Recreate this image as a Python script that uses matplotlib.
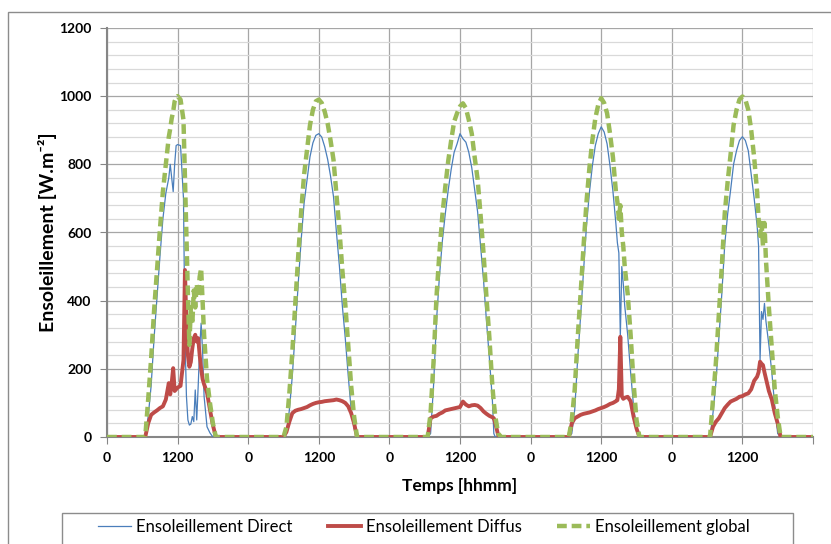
import numpy as np
import matplotlib
matplotlib.use('Agg')
from matplotlib import pyplot as plt
from matplotlib.patches import Rectangle
from matplotlib.ticker import MultipleLocator

plt.rcParams['font.family'] = ['Lato', 'DejaVu Sans']

# hours of the day (local), one list per day (W/m2)
hours_d1 = [6.0, 6.5, 7.0, 7.5, 8.0, 8.5, 9.0, 9.5, 10.0, 10.5, 10.75, 11.0, 11.25, 11.5, 11.75, 12.0, 12.5,
            13.0, 13.25, 13.5, 13.75, 14.0, 14.25, 14.5, 14.75, 15.0, 15.25, 15.5, 15.75, 16.0, 16.25, 16.5,
            17.0, 17.5, 18.0, 18.5, 19.0]
direct_d1 = [0, 0, 60, 150, 290, 410, 530, 640, 715, 760, 800, 760, 720, 800, 855, 858, 855,
             700, 300, 120, 50, 35, 38, 60, 45, 138, 50, 150, 260, 334, 250, 120,
             30, 12, 0, 0, 0]
diffuse_d1 = [0, 0, 40, 65, 72, 78, 85, 90, 110, 158, 125, 160, 202, 135, 140, 145, 150,
              226, 490, 330, 240, 206, 220, 260, 290, 300, 280, 290, 240, 200, 170, 155,
              130, 80, 35, 0, 0]
global_d1 = [0, 0, 110, 230, 370, 490, 610, 720, 800, 880, 905, 935, 955, 985, 995, 1000, 990,
             930, 760, 580, 420, 270, 380, 330, 430, 380, 450, 410, 470, 495, 400, 300,
             170, 100, 40, 0, 0]

hours_d2 = [6.0, 6.5, 7.0, 7.5, 8.0, 8.5, 9.0, 9.5, 10.0, 10.5, 11.0, 11.5, 12.0, 12.5, 13.0, 13.5,
            14.0, 14.5, 15.0, 15.5, 16.0, 16.5, 17.0, 17.5, 18.0, 18.5, 19.0]
direct_d2 = [0, 10, 80, 180, 310, 450, 578, 686, 755, 822, 863, 885, 890, 880, 852, 815,
             765, 705, 600, 502, 385, 290, 180, 80, 25, 0, 0]
diffuse_d2 = [0, 15, 45, 70, 77, 80, 82, 85, 88, 93, 97, 100, 102, 103, 105, 106,
              107, 108, 110, 108, 105, 100, 90, 70, 40, 0, 0]
global_d2 = [0, 30, 130, 250, 390, 530, 660, 770, 842, 915, 960, 985, 990, 980, 955, 920,
             870, 813, 710, 610, 490, 390, 270, 150, 60, 0, 0]

hours_d3 = [6.0, 6.5, 7.0, 7.5, 8.0, 8.5, 9.0, 9.5, 10.0, 10.5, 11.0, 11.5, 12.0, 12.5, 13.0, 13.5,
            14.0, 14.5, 15.0, 15.5, 16.0, 16.5, 17.0, 17.5, 17.75, 18.0, 18.5, 19.0]
direct_d3 = [0, 0, 10, 150, 340, 470, 575, 655, 725, 785, 835, 860, 890, 875, 865, 835,
             790, 725, 660, 560, 460, 340, 230, 110, 10, 0, 0, 0]
diffuse_d3 = [0, 0, 55, 60, 62, 68, 72, 78, 80, 82, 84, 86, 88, 104, 95, 90,
              93, 94, 92, 85, 75, 68, 62, 58, 55, 40, 5, 0]
global_d3 = [0, 0, 70, 220, 410, 540, 650, 734, 810, 870, 925, 950, 970, 979, 965, 930,
             890, 820, 755, 650, 539, 410, 290, 150, 100, 60, 10, 0]

hours_d4 = [6.0, 6.5, 7.0, 7.5, 8.0, 8.5, 9.0, 9.5, 10.0, 10.5, 11.0, 11.5, 12.0, 12.5, 13.0, 13.5,
            14.0, 14.5, 14.75, 15.0, 15.25, 15.5, 15.75, 16.0, 16.5, 17.0, 17.5, 18.0, 18.5, 19.0]
direct_d4 = [0, 0, 10, 80, 230, 355, 490, 620, 718, 796, 855, 890, 910, 895, 860, 795,
             720, 625, 570, 540, 294, 500, 450, 385, 300, 190, 90, 20, 0, 0]
diffuse_d4 = [0, 0, 40, 55, 60, 65, 68, 70, 72, 75, 78, 82, 85, 88, 92, 97,
              100, 105, 108, 140, 294, 120, 112, 115, 118, 105, 60, 25, 0, 0]
global_d4 = [0, 0, 50, 140, 290, 420, 560, 690, 790, 871, 935, 975, 994, 980, 950, 890,
             820, 720, 690, 640, 680, 600, 560, 500, 420, 300, 160, 50, 0, 0]

hours_d5 = [6.0, 6.5, 7.0, 7.5, 8.0, 8.5, 9.0, 9.5, 10.0, 10.5, 11.0, 11.5, 12.0, 12.5, 13.0, 13.5,
            14.0, 14.5, 14.75, 15.0, 15.25, 15.5, 15.75, 16.0, 16.5, 17.0, 17.5, 18.0, 18.5, 19.0]
direct_d5 = [0, 0, 70, 160, 290, 420, 565, 655, 725, 800, 840, 870, 881, 870, 840, 770,
             700, 620, 560, 226, 368, 345, 392, 340, 270, 190, 90, 10, 0, 0]
diffuse_d5 = [0, 0, 30, 45, 55, 70, 85, 95, 104, 108, 112, 118, 120, 125, 128, 140,
              165, 177, 190, 221, 215, 211, 190, 172, 135, 110, 70, 40, 0, 0]
global_d5 = [0, 0, 110, 220, 360, 500, 656, 750, 830, 915, 960, 990, 999, 990, 960, 900,
             820, 720, 640, 590, 628, 560, 628, 520, 380, 260, 140, 60, 0, 0]

tick_labels = ['0', '1200', '0', '1200', '0', '1200', '0', '1200', '0', '1200', '']

all_hours = [hours_d1, hours_d2, hours_d3, hours_d4, hours_d5]
all_direct = [direct_d1, direct_d2, direct_d3, direct_d4, direct_d5]
all_diffuse = [diffuse_d1, diffuse_d2, diffuse_d3, diffuse_d4, diffuse_d5]
all_global = [global_d1, global_d2, global_d3, global_d4, global_d5]

t = [0.0]
direct = [0]
diffuse = [0]
glob = [0]
for d in range(5):
    t += [h + 24 * d for h in all_hours[d]]
    direct += all_direct[d]
    diffuse += all_diffuse[d]
    glob += all_global[d]
t.append(120.0)
direct.append(0)
diffuse.append(0)
glob.append(0)

fig = plt.figure(figsize=(8.31, 5.44), dpi=100)
ax = fig.add_axes([107 / 831, 1 - 437 / 544, 706 / 831, 409 / 544])

# chart border + legend box
fig.patches.append(Rectangle((8 / 831, -0.1), 1.2, 1 - 12 / 544 + 0.1, transform=fig.transFigure,
                             fill=False, edgecolor='#8c8c8c', lw=1.0))
fig.patches.append(Rectangle((62 / 831, -0.1), 731 / 831, 1 - 513 / 544 + 0.1, transform=fig.transFigure,
                             fill=False, edgecolor='#8c8c8c', lw=1.0))

ax.plot(t, direct, color='#4a7ebb', lw=0.9, label='Ensoleillement Direct', zorder=3)
ax.plot(t, diffuse, color='#be4b48', lw=2.8, label='Ensoleillement Diffus', zorder=4)
ax.plot(t, glob, color='#9bbb59', lw=3.2, linestyle=(0, (2.2, 1.1)), label='Ensoleillement global', zorder=5)

ax.set_xlim(0, 120)
ax.set_ylim(0, 1200)
ax.set_xticks(np.arange(0, 121, 12))
ax.set_xticklabels(tick_labels, fontweight='bold', fontsize=10)
ax.yaxis.set_major_locator(MultipleLocator(200))
ax.yaxis.set_minor_locator(MultipleLocator(40))
for lab in ax.get_yticklabels():
    lab.set_fontweight('bold')
    lab.set_fontsize(10)
ax.tick_params(axis='both', which='major', direction='out', length=5, color='#868686', pad=6)
ax.tick_params(axis='y', which='minor', length=0)

ax.grid(True, which='major', color='#a6a6a6', lw=0.9)
ax.grid(True, which='minor', axis='y', color='#d9d9d9', lw=0.9)
ax.set_axisbelow(True)
for s in ['top', 'right']:
    ax.spines[s].set_visible(False)
for s in ['left', 'bottom']:
    ax.spines[s].set_color('#868686')
    ax.spines[s].set_linewidth(1.5)

ax.set_xlabel('Temps [hhmm]', fontweight='bold', fontsize=12.5, labelpad=10)
ax.set_ylabel('Ensoleillement [W.m\u207b\u00b2]', fontweight='bold', fontsize=14, labelpad=2)

leg = fig.legend(loc='center left', bbox_to_anchor=(98 / 831, 1 - 527 / 544),
                 ncol=3, frameon=False, fontsize=12, borderpad=0, borderaxespad=0,
                 handlelength=2.0, handletextpad=0.3, columnspacing=2.1)

fig.savefig('out.png', dpi=100)
